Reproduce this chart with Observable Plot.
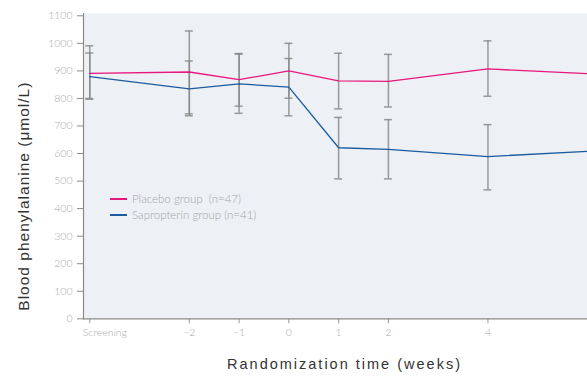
<!DOCTYPE html>
<html>
<head>
<meta charset="utf-8">
<script src="https://cdn.jsdelivr.net/npm/d3@7"></script>
<script src="https://cdn.jsdelivr.net/npm/@observablehq/plot@0.6"></script>
<style>
  body { margin: 0; background: #fff; }
  #wrap { position: relative; width: 587px; height: 376px; }
  #legend { position: absolute; left: 110px; top: 191px; font-family: Lato, "Open Sans", sans-serif; font-weight: 300; font-size: 11.5px; color: #a6a6a6; line-height: 16px; }
  #legend .row { display: flex; align-items: center; }
  #legend .sw { display: inline-block; width: 17px; height: 1.5px; margin-right: 5px; }
</style>
</head>
<body>
<div id="wrap"></div>
<script>
const weeks = [-4, -2, -1, 0, 1, 2, 4, 6];
const tickLabels = ["Screening", "\u22122", "\u22121", "0", "1", "2", "4"];
const tickWeeks = [-4, -2, -1, 0, 1, 2, 4];
const placebo = [891, 896, 868, 900, 864, 862, 907, 890];
const placeboLow = [797, 744, 772, 801, 762, 769, 808, null];
const placeboHigh = [991, 1045, 963, 1000, 964, 960, 1009, null];
const sapro = [879, 835, 853, 841, 621, 615, 589, 608];
const saproLow = [800, 737, 746, 737, 508, 508, 468, null];
const saproHigh = [965, 936, 961, 945, 731, 723, 705, null];
const seriesNames = ["Placebo group  (n=47)", "Sapropterin group (n=41)"];
const colors = ["#e8177f", "#1a5c9e"];
const yTitle = "Blood phenylalanine (\u03bcmol/L)";
const xTitle = "Randomization time (weeks)";

const rows = [];
weeks.forEach((w, i) => {
  rows.push({week: w, value: placebo[i], low: placeboLow[i], high: placeboHigh[i], series: seriesNames[0]});
  rows.push({week: w, value: sapro[i], low: saproLow[i], high: saproHigh[i], series: seriesNames[1]});
});
const bars = rows.filter(d => d.low != null);
const ticks = tickWeeks.map((w, i) => ({week: w, label: tickLabels[i]}));
const capHalf = 0.08;
const tickFont = {fontSize: 10.5, fontWeight: 300, fill: "#a9a9a9"};
const titleFont = {fill: "#333", fontFamily: "'Liberation Sans', Arial, sans-serif", textAnchor: "middle"};

const chart = Plot.plot({
  width: 587,
  height: 376,
  marginLeft: 83,
  marginRight: 0,
  marginTop: 13,
  marginBottom: 57.7,
  style: {background: "#fff", fontFamily: "Lato, 'Open Sans', sans-serif"},
  x: {domain: [-4.126, 6]},
  y: {domain: [0, 1100], insetTop: 2.3},
  color: {domain: seriesNames, range: colors},
  marks: [
    Plot.frame({fill: "#edf0f5", stroke: null}),
    Plot.axisY({ticks: d3.range(0, 1101, 100), tickSize: 6, tickPadding: 5, tickFormat: d => String(d), fontSize: 10.5, fontWeight: 300, color: "#a9a9a9", stroke: "#8a8a8a", label: null}),
    Plot.axisX({ticks: tickWeeks, tickSize: 5, tickFormat: () => "", stroke: "#9a9a9a", label: null}),
    Plot.frame({anchor: "left", stroke: "#8a8a8a", strokeWidth: 1.2}),
    Plot.frame({anchor: "bottom", stroke: "#8a8a8a", strokeWidth: 1.2}),
    Plot.text(ticks.filter(d => d.week === -4), {x: "week", frameAnchor: "bottom", text: "label", dy: 17, dx: -7, textAnchor: "start", ...tickFont}),
    Plot.text(ticks.filter(d => d.week !== -4), {x: "week", frameAnchor: "bottom", text: "label", dy: 17, textAnchor: "middle", ...tickFont}),
    Plot.ruleX(bars, {x: "week", y1: "low", y2: "high", stroke: "#8a8a8a", strokeWidth: 1.5, strokeOpacity: 0.85}),
    Plot.ruleY(bars, {y: "low", x1: d => d.week - capHalf, x2: d => d.week + capHalf, stroke: "#8a8a8a", strokeWidth: 1.5, strokeOpacity: 0.85}),
    Plot.ruleY(bars, {y: "high", x1: d => d.week - capHalf, x2: d => d.week + capHalf, stroke: "#8a8a8a", strokeWidth: 1.5, strokeOpacity: 0.85}),
    Plot.line(rows, {x: "week", y: "value", z: "series", stroke: "series", strokeWidth: 1.3}),
    Plot.text([yTitle], {frameAnchor: "left", dx: -59, dy: 30, rotate: -90, fontSize: 15.5, ...titleFont}),
    Plot.text([xTitle], {frameAnchor: "bottom", dx: 9, dy: 50, fontSize: 14.5, ...titleFont})
  ]
});
d3.select(chart).selectAll("text").filter(function() { return this.textContent === yTitle; }).style("letter-spacing", "1px");
d3.select(chart).selectAll("text").filter(function() { return this.textContent === xTitle; }).style("letter-spacing", "2px");
const wrap = document.getElementById("wrap");
wrap.appendChild(chart);
const legend = document.createElement("div");
legend.id = "legend";
seriesNames.forEach((n, i) => {
  const r = document.createElement("div");
  r.className = "row";
  const s = document.createElement("span");
  s.className = "sw";
  s.style.background = colors[i];
  const t = document.createElement("span");
  t.textContent = n;
  t.style.whiteSpace = "pre";
  r.appendChild(s); r.appendChild(t);
  legend.appendChild(r);
});
wrap.appendChild(legend);
</script>
</body>
</html>
